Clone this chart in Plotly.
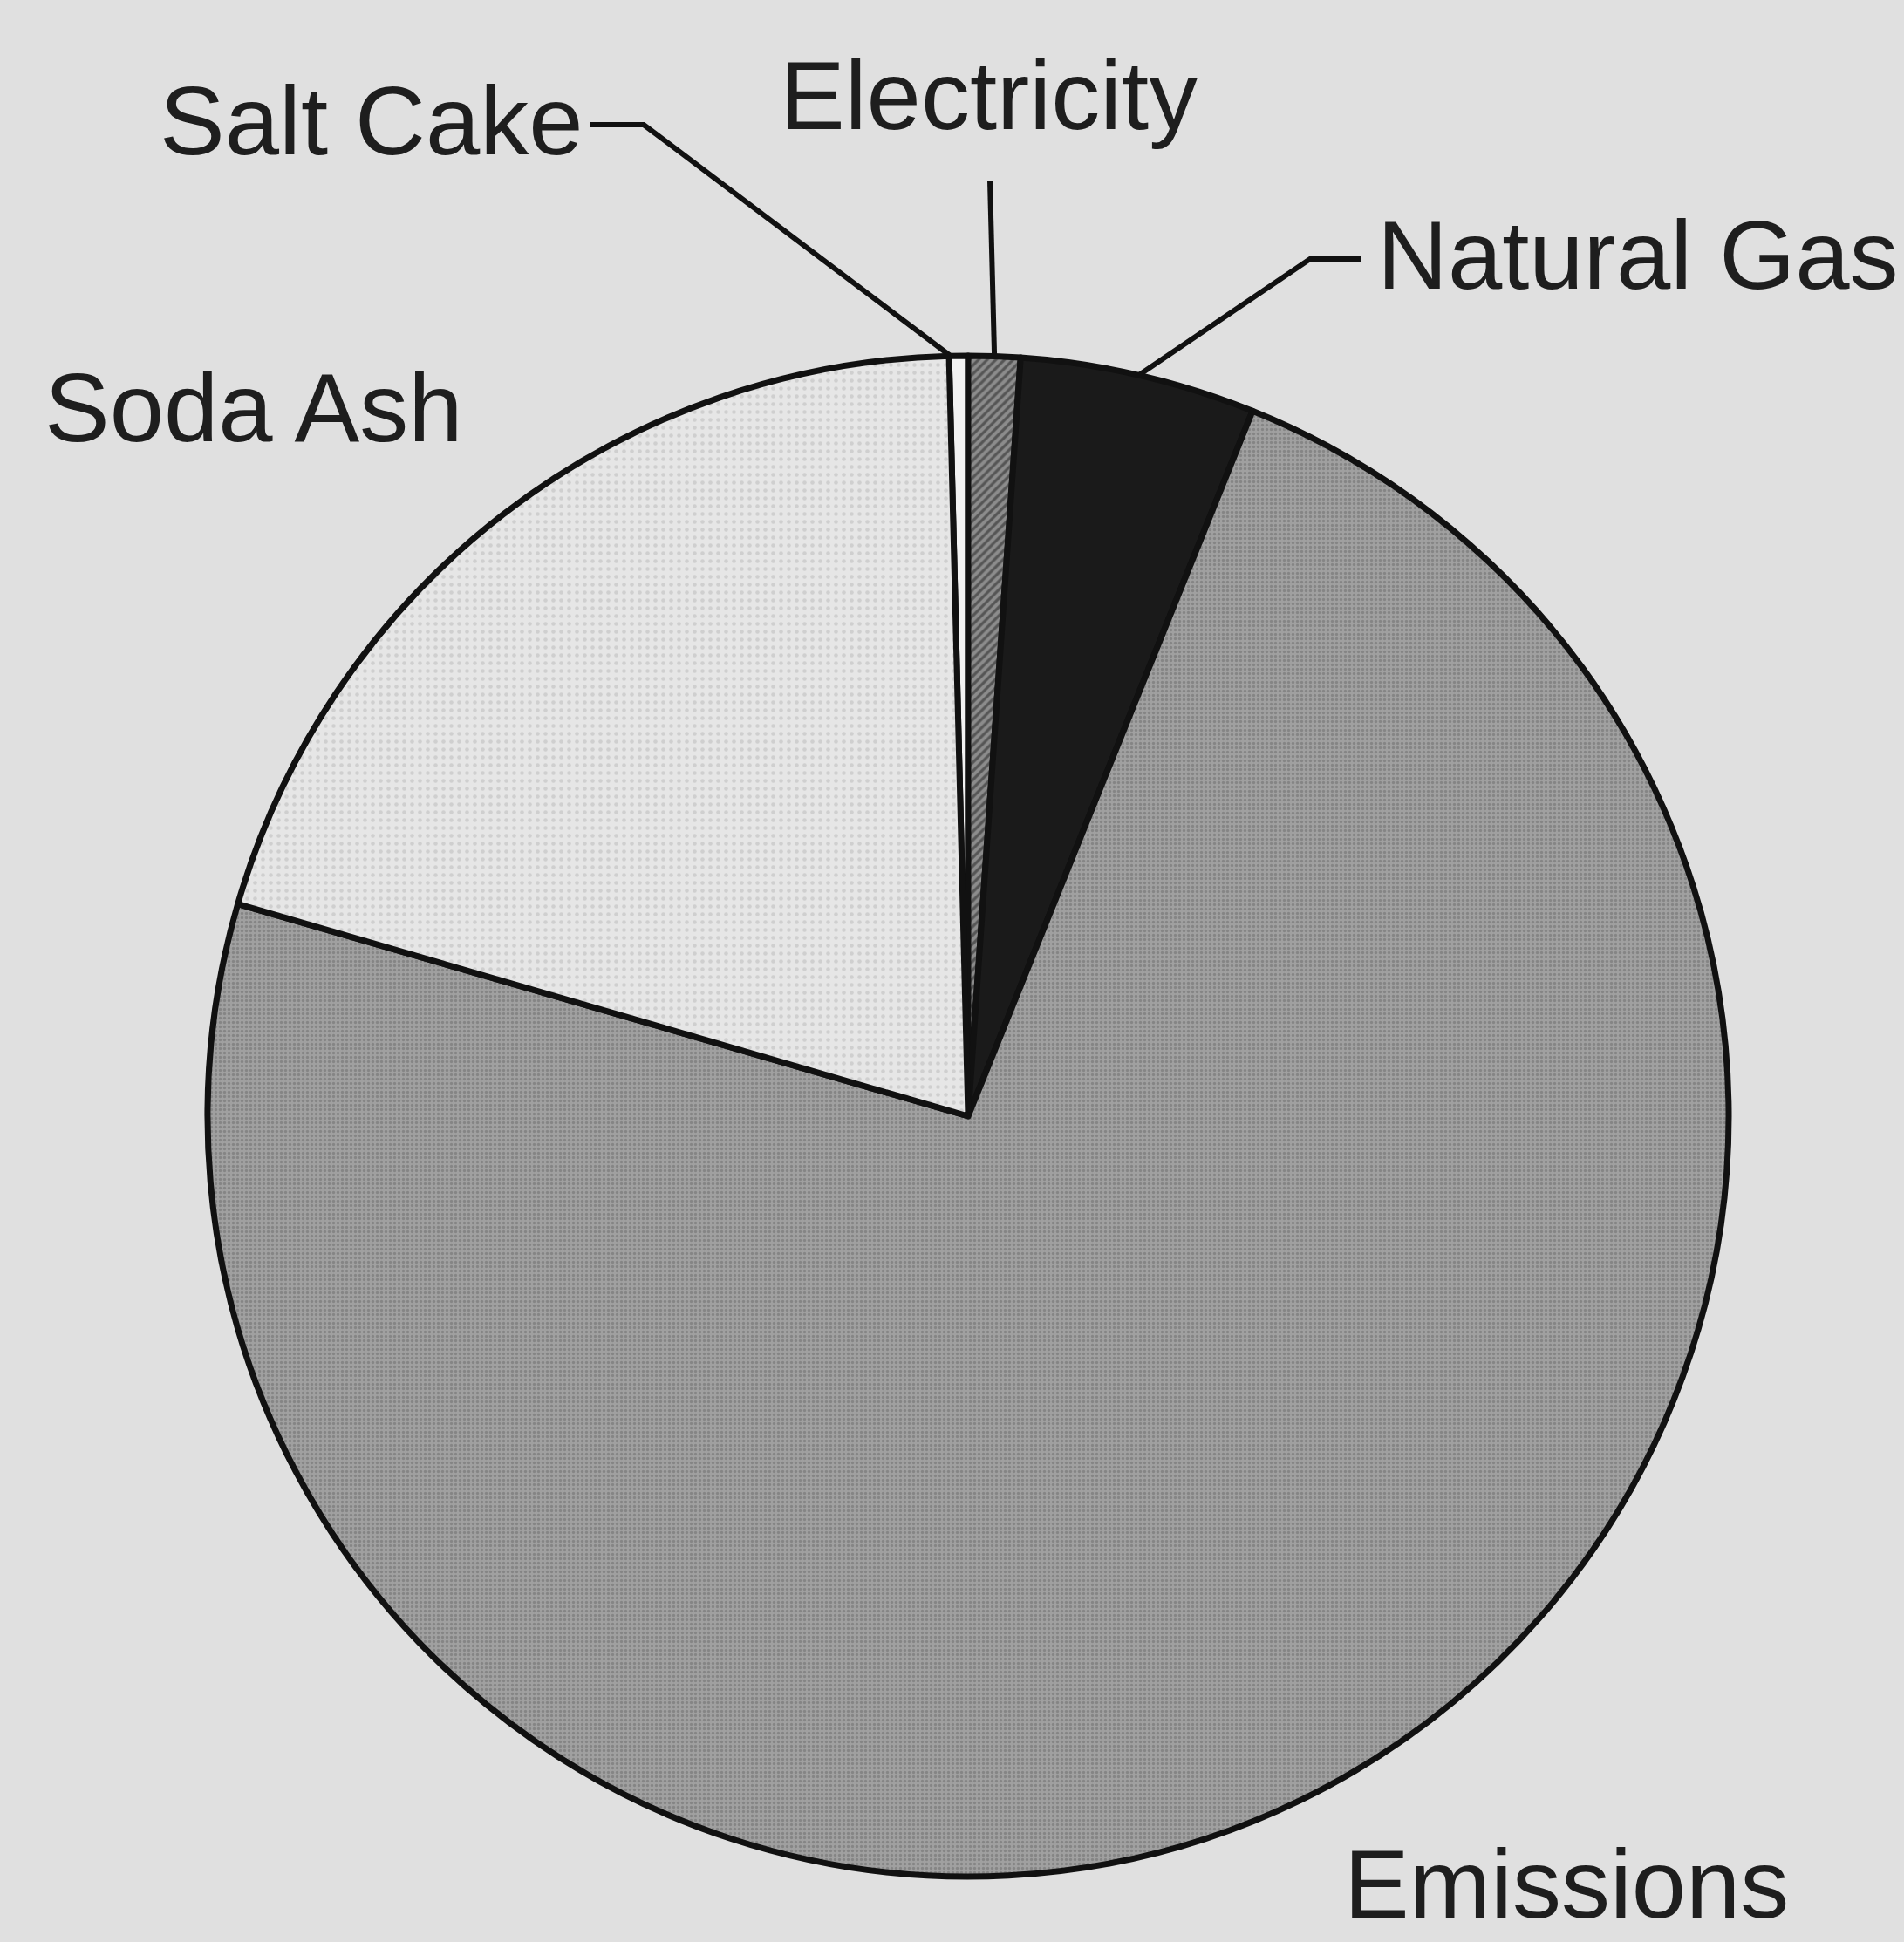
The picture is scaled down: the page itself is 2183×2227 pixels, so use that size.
import math
import plotly.graph_objects as go

W, H = 2183, 2227

# ---- data (percent shares, clockwise from 12 o'clock) ----
labels = ["Salt Cake", "Electricity", "Natural Gas", "Emissions", "Soda Ash"]
values = [0.4, 1.1, 5.0, 73.4, 20.1]
colors = ["#f2f2f2", "#8c8c8c", "#1a1a1a", "#a0a0a0", "#e6e6e6"]
start_angle = -1.44  # degrees; salt cake starts just left of 12 o'clock

# ---- layout geometry (pixels) ----
cx, cy, R = 1110, 1280, 872
bg = "#e0e0e0"
font_size = 112

# label placement: (left x, cap-centre y)
label_pos = {
    "Salt Cake": (182, 138),
    "Electricity": (893, 109),
    "Natural Gas": (1578, 292),
    "Soda Ash": (50, 467),
    "Emissions": (1540, 2160),
}
# leader line elbow points (label side), pie side computed from slice angles
leaders = {
    "Salt Cake": [(676, 143), (738, 143)],
    "Electricity": [(1135, 207)],
    "Natural Gas": [(1560, 297), (1502, 297)],
}
leader_angle_offset = {"Salt Cake": -0.6}

fig = go.Figure()

fig.add_trace(go.Pie(
    labels=labels,
    values=values,
    sort=False,
    direction="clockwise",
    rotation=start_angle,
    textinfo="none",
    hoverinfo="label+percent",
    showlegend=False,
    marker=dict(
        colors=colors,
        line=dict(color="#111111", width=7),
        pattern=dict(
            shape=["", "/", "", ".", "."],
            fgcolor=["#f2f2f2", "#555555", "#1a1a1a", "#858585", "#cfcfcf"],
            bgcolor=colors,
            size=[8, 7, 8, 5, 9],
            solidity=[0.2, 0.45, 0.2, 0.35, 0.2],
            fillmode="replace",
        ),
    ),
    domain=dict(
        x=[(cx - R) / W, (cx + R) / W],
        y=[(H - cy - R) / H, (H - cy + R) / H],
    ),
))

# cumulative angles for leader line anchors
total = sum(values)
cum = start_angle
mid_angle = {}
for lab, v in zip(labels, values):
    span = 360.0 * v / total
    mid_angle[lab] = cum + span / 2
    cum += span

for lab, pts in leaders.items():
    a = math.radians(mid_angle[lab] + leader_angle_offset.get(lab, 0.0))
    px = cx + R * math.sin(a)
    py = cy - R * math.cos(a)
    xs = [p[0] for p in pts] + [px]
    ys = [p[1] for p in pts] + [py]
    fig.add_trace(go.Scatter(
        x=xs, y=ys, mode="lines",
        line=dict(color="#111111", width=6),
        hoverinfo="skip", showlegend=False,
    ))

for lab, (lx, ly) in label_pos.items():
    fig.add_annotation(
        x=lx, y=ly, xref="x", yref="y",
        text=lab, showarrow=False,
        xanchor="left", yanchor="middle",
        font=dict(family="Liberation Sans, Arial, sans-serif", size=font_size, color="#1e1e1e"),
        borderpad=0,
    )

fig.update_layout(
    width=W, height=H,
    margin=dict(l=0, r=0, t=0, b=0),
    paper_bgcolor=bg,
    plot_bgcolor="rgba(0,0,0,0)",
    xaxis=dict(range=[0, W], visible=False, domain=[0, 1], fixedrange=True),
    yaxis=dict(range=[H, 0], visible=False, domain=[0, 1], fixedrange=True),
)

fig.write_html("out.html")
